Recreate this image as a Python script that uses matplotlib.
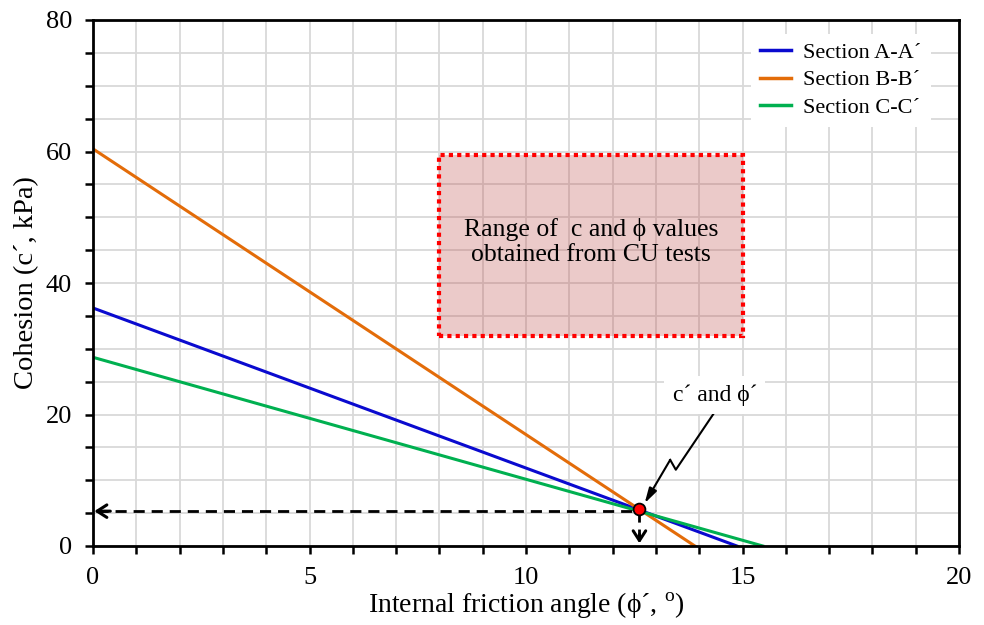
import matplotlib
matplotlib.use("Agg")
import matplotlib.pyplot as plt
from matplotlib.patches import Rectangle
from matplotlib.ticker import MultipleLocator

plt.rcParams['font.family'] = ['Liberation Serif', 'DejaVu Serif']
plt.rcParams['mathtext.fontset'] = 'custom'
plt.rcParams['mathtext.rm'] = 'Liberation Serif'

# Data
labels = ["Section A-A\u00b4", "Section B-B\u00b4", "Section C-C\u00b4"]
colors = ["#0A0ACF", "#E36C09", "#00B050"]
phi_A = [0.0, 14.87]
c_A = [36.2, 0.0]
phi_B = [0.0, 13.9]
c_B = [60.4, 0.0]
phi_C = [0.0, 15.47]
c_C = [28.7, 0.0]
phi_star = 12.62
c_star = 5.7
c_dash = 5.3
rect_phi = [8.0, 15.0]
rect_c = [32.0, 59.5]
zig_phi = [14.34, 13.46, 13.33]
zig_c = [20.2, 11.6, 13.1]
arrow_tip = (12.74, 6.5)

fig = plt.figure(figsize=(9.84, 6.25), dpi=100)
ax = fig.add_axes([93/984, 1-546/625, (959-93)/984, (546-20)/625])

ax.set_xlim(0, 20)
ax.set_ylim(0, 80)

# grid
ax.xaxis.set_major_locator(MultipleLocator(5))
ax.xaxis.set_minor_locator(MultipleLocator(1))
ax.yaxis.set_major_locator(MultipleLocator(20))
ax.yaxis.set_minor_locator(MultipleLocator(5))
ax.grid(True, which='both', color='#d9d9d9', linewidth=1.3, zorder=0)
ax.set_axisbelow(True)

for s in ax.spines.values():
    s.set_linewidth(2.0)
    s.set_color('black')
    s.set_zorder(10)

ax.tick_params(which='both', direction='out', width=1.8, length=6, colors='black',
               top=False, right=False, labelsize=19)
ax.tick_params(axis='y', which='major', pad=9)
ax.tick_params(axis='x', which='major', pad=9)

# rectangle
rect = Rectangle((rect_phi[0], rect_c[0]), rect_phi[1]-rect_phi[0], rect_c[1]-rect_c[0],
                 facecolor=(192/255, 80/255, 77/255, 0.3), edgecolor='#FF0000',
                 linewidth=3, linestyle=(0, (1, 1)), zorder=2)
ax.add_patch(rect)
ax.text(sum(rect_phi)/2, 46.2, "Range of  c and \u03d5 values\nobtained from CU tests",
        ha='center', va='center', fontsize=18.5, linespacing=1.2, zorder=3)

# lines
for (px, cy), lab, col in zip([(phi_A, c_A), (phi_B, c_B), (phi_C, c_C)], labels, colors):
    ax.plot(px, cy, color=col, linewidth=2.2, label=lab, zorder=4)

# dashed guide lines
ax.plot([0.1, phi_star], [c_dash, c_dash], color='black', linestyle=(0, (4, 2.5)), linewidth=2, zorder=5)
ax.plot([phi_star, phi_star], [c_dash, 0.5], color='black', linestyle=(0, (4, 2.5)), linewidth=2, zorder=5)
ax.annotate('', xy=(0.03, c_dash), xytext=(0.4, c_dash),
            arrowprops=dict(arrowstyle='->,head_length=0.7,head_width=0.45', lw=2.2, color='black',
                            shrinkA=0, shrinkB=0), zorder=6)
ax.annotate('', xy=(phi_star, 0.4), xytext=(phi_star, 1.8),
            arrowprops=dict(arrowstyle='->,head_length=0.7,head_width=0.45', lw=2.2, color='black',
                            shrinkA=0, shrinkB=0), zorder=6)

# zigzag annotation arrow
ax.plot(zig_phi, zig_c, color='black', linewidth=1.5, zorder=6)
ax.annotate('', xy=arrow_tip, xytext=(zig_phi[-1], zig_c[-1]),
            arrowprops=dict(arrowstyle='-|>,head_length=0.9,head_width=0.25', lw=1.5, color='black',
                            shrinkA=0, shrinkB=0), zorder=6)
ax.text(14.36, 23.0, "c\u00b4 and \u03d5\u00b4", ha='center', va='center', fontsize=17,
        bbox=dict(facecolor='white', edgecolor='none', pad=6), zorder=7)

ax.plot([phi_star], [c_star], marker='o', markersize=8.5, markerfacecolor='#FF0000',
        markeredgecolor='black', markeredgewidth=1.3, linestyle='none', zorder=8, clip_on=False)

leg = ax.legend(loc='upper right', fontsize=16, frameon=True, fancybox=False,
                edgecolor='none', facecolor='white', framealpha=1, handlelength=1.4,
                handletextpad=0.55, borderaxespad=0.5, labelspacing=0.3,
                bbox_to_anchor=(0.98, 0.995))
leg.set_zorder(9)
for l in leg.get_lines():
    l.set_linewidth(2.5)

ax.set_xlabel("Internal friction angle (\u03d5\u00b4, $^{\\rm o}$)", fontsize=20, labelpad=1)
ax.set_ylabel("Cohesion (c\u00b4, kPa)", fontsize=20.5, labelpad=5)

fig.savefig("out.png", dpi=100)
